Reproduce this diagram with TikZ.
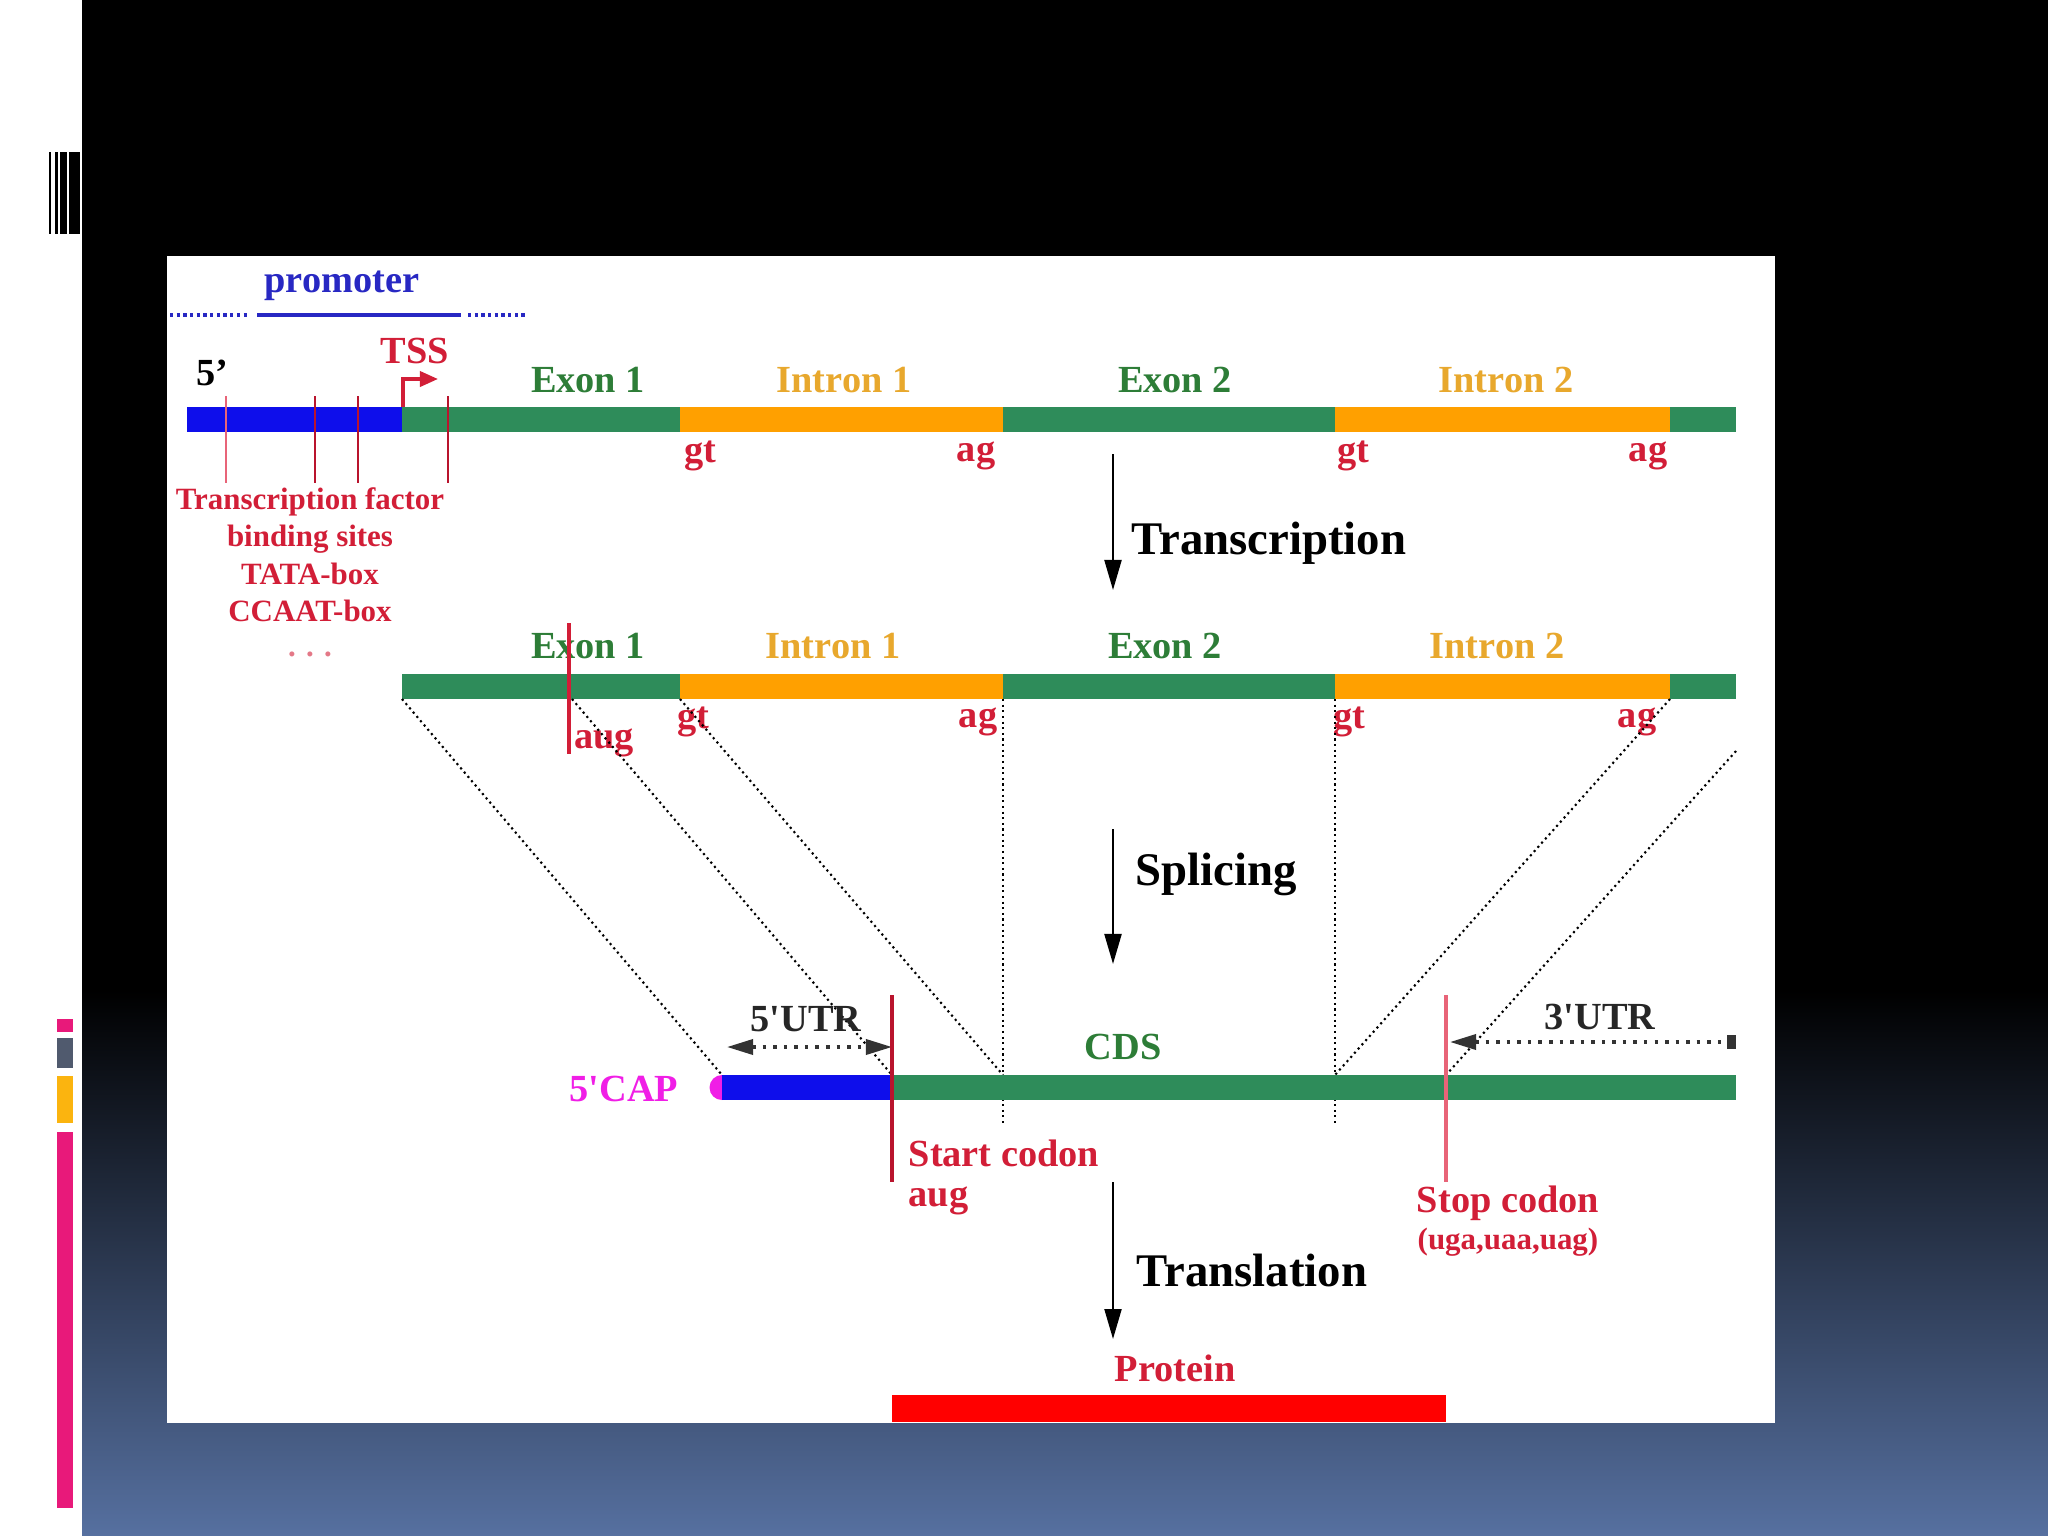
\documentclass[tikz,border=0pt]{standalone}
\usepackage{fontspec}
\setmainfont{Liberation Serif}
\usetikzlibrary{arrows.meta}

\definecolor{dnablue}{RGB}{14,14,235}
\definecolor{exongreen}{RGB}{46,140,90}
\definecolor{intronorange}{RGB}{255,160,0}
\definecolor{exontext}{RGB}{45,125,55}
\definecolor{introntext}{RGB}{232,168,45}
\definecolor{sitered}{RGB}{210,30,55}
\definecolor{startred}{RGB}{185,20,45}
\definecolor{stoppink}{RGB}{232,100,120}
\definecolor{capmag}{RGB}{240,30,230}
\definecolor{promblue}{RGB}{40,40,195}
\definecolor{slidepink}{RGB}{232,25,122}
\definecolor{slidegray}{RGB}{80,90,110}
\definecolor{slideyellow}{RGB}{251,180,15}
\definecolor{slideblue}{RGB}{86,112,160}

\tikzset{
  lbl/.style={font=\fontsize{10.9}{12}\selectfont\bfseries, inner sep=0pt},
  biglbl/.style={font=\fontsize{13.3}{15}\selectfont\bfseries, inner sep=0pt},
  smalllbl/.style={font=\fontsize{8.8}{10}\selectfont\bfseries, inner sep=0pt},
  splice/.style={densely dotted, line width=0.6pt},
  steparrow/.style={line width=0.6pt, -{Triangle[length=3mm,width=1.7mm]}},
  utrarrow/.style={dotted, line width=1pt, black!80},
}

\begin{document}
\begin{tikzpicture}[x=0.01cm,y=-0.01cm]
\useasboundingbox (0,0) rectangle (2048,1536);

\fill[white] (0,0) rectangle (2048,1536);
\fill[black] (82,0) rectangle (2048,990);
\shade[top color=black, bottom color=slideblue] (82,990) rectangle (2048,1536);

\foreach \a/\b in {49/51, 55/58, 60/67, 69/80}
{
\fill[black] (\a,152) rectangle (\b,234);
}

\fill[slidepink] (57,1019) rectangle (73,1032);
\fill[slidegray] (57,1038) rectangle (73,1068);
\fill[slideyellow] (57,1076) rectangle (73,1123);
\fill[slidepink] (57,1132) rectangle (73,1508);

\fill[white] (167,256) rectangle (1775,1423);

% gene
\node[lbl, text=promblue] (promoter) at (342,286) {promoter};
\draw[promblue, line width=0.9pt, densely dotted] (170,315) -- (248,315);
\draw[promblue, line width=0.9pt] (257,315) -- (461,315);
\draw[promblue, line width=0.9pt, densely dotted] (468,315) -- (525,315);

\foreach \a/\b/\c in {187/402/dnablue, 402/680/exongreen, 680/1003/intronorange, 1003/1335/exongreen, 1335/1670/intronorange, 1670/1736/exongreen}
{
\fill[\c] (\a,407) rectangle (\b,432);
}

\node[lbl] (five) at (212,373) {5’};
\node[lbl, text=sitered] (tsslbl) at (415,351) {TSS};
\coordinate (tss) at (403,407);
\coordinate (tsstip) at (438,379);
\draw[sitered, line width=1pt, -{Triangle[length=1.8mm,width=1.5mm]}] (tss) |- (tsstip);

\draw[stoppink, line width=0.8pt] (226,396) -- (226,483);
\foreach \x in {315,358,448}
{
\draw[startred, line width=0.7pt] (\x,396) -- (\x,483);
}

\node[smalllbl, text=sitered] (tf1) at (310,502) {Transcription factor};
\node[smalllbl, text=sitered] (tf2) at (310,539) {binding sites};
\node[smalllbl, text=sitered] (tf3) at (310,574) {TATA-box};
\node[smalllbl, text=sitered] (tf4) at (310,611) {CCAAT-box};
\node[smalllbl, text=sitered!60] (tf5) at (310,654) {. . .};

\node[lbl, text=exontext] (exon1a) at (588,380) {Exon 1};
\node[lbl, text=introntext] (intron1a) at (844,380) {Intron 1};
\node[lbl, text=exontext] (exon2a) at (1175,380) {Exon 2};
\node[lbl, text=introntext] (intron2a) at (1506,380) {Intron 2};

\node[lbl, text=sitered] (gt1a) at (700,456) {gt};
\node[lbl, text=sitered] (ag1a) at (976,456) {ag};
\node[lbl, text=sitered] (gt2a) at (1353,456) {gt};
\node[lbl, text=sitered] (ag2a) at (1648,456) {ag};

\coordinate (trtop) at (1113,454);
\coordinate (trbot) at (1113,590);
\draw[steparrow] (trtop) -- (trbot);
\node[biglbl, anchor=west] (transcription) at (1131,543) {Transcription};

% pre-mRNA
\foreach \a/\b/\c in {402/680/exongreen, 680/1003/intronorange, 1003/1335/exongreen, 1335/1670/intronorange, 1670/1736/exongreen}
{
\fill[\c] (\a,674) rectangle (\b,699);
}

\node[lbl, text=exontext] (exon1b) at (588,646) {Exon 1};
\node[lbl, text=introntext] (intron1b) at (833,646) {Intron 1};
\node[lbl, text=exontext] (exon2b) at (1165,646) {Exon 2};
\node[lbl, text=introntext] (intron2b) at (1497,646) {Intron 2};

\draw[sitered, line width=0.9pt] (569,623) -- (569,754);
\node[lbl, text=sitered] (augb) at (604,743) {aug};
\node[lbl, text=sitered] (gt1b) at (693,722) {gt};
\node[lbl, text=sitered] (ag1b) at (978,722) {ag};
\node[lbl, text=sitered] (gt2b) at (1349,722) {gt};
\node[lbl, text=sitered] (ag2b) at (1637,722) {ag};

\coordinate (pre5) at (402,699);
\coordinate (preaug) at (572,699);
\coordinate (pregt1) at (680,699);
\coordinate (preag1) at (1003,699);
\coordinate (pregt2) at (1335,699);
\coordinate (preag2) at (1670,699);
\coordinate (pre3) at (1736,751);

\coordinate (cap5) at (722,1075);
\coordinate (startc) at (892,1075);
\coordinate (jx1) at (1003,1075);
\coordinate (jx1low) at (1003,1126);
\coordinate (jx2) at (1335,1075);
\coordinate (jx2low) at (1335,1126);
\coordinate (stopc) at (1446,1075);

\draw[splice] (pre5) -- (cap5);
\draw[splice] (preaug) -- (startc);
\draw[splice] (pregt1) -- (jx1);
\draw[splice] (preag1) -- (jx1low);
\draw[splice] (pregt2) -- (jx2low);
\draw[splice] (preag2) -- (jx2);
\draw[splice] (pre3) -- (stopc);

\coordinate (sptop) at (1113,829);
\coordinate (spbot) at (1113,964);
\draw[steparrow] (sptop) -- (spbot);
\node[biglbl, anchor=west] (splicing) at (1135,874) {Splicing};

% mRNA
\fill[capmag] (722,1087.5) circle[radius=1.25mm];
\fill[dnablue] (722,1075) rectangle (892,1100);
\fill[exongreen] (892,1075) rectangle (1736,1100);

\node[lbl, text=capmag] (caplbl) at (624,1089) {5\textquotesingle CAP};
\node[lbl, text=black!85] (utr5lbl) at (806,1019) {5\textquotesingle UTR};
\node[lbl, text=exontext] (cds) at (1123,1047) {CDS};
\node[lbl, text=black!85] (utr3lbl) at (1600,1017) {3\textquotesingle UTR};

\coordinate (utr5l) at (727,1047);
\coordinate (utr5r) at (892,1047);
\draw[utrarrow, {Triangle[length=2.6mm,width=1.5mm]}-{Triangle[length=2.6mm,width=1.5mm]}] (utr5l) -- (utr5r);
\coordinate (utr3l) at (1450,1042);
\coordinate (utr3r) at (1736,1042);
\draw[utrarrow, {Triangle[length=2.6mm,width=1.5mm]}-{Square[length=0.9mm,width=1.4mm]}] (utr3l) -- (utr3r);

\draw[startred, line width=1pt] (892,995) -- (892,1182);
\draw[stoppink, line width=1pt] (1446,995) -- (1446,1182);

\node[lbl, text=sitered, anchor=west] (startlbl) at (908,1153) {Start codon};
\node[lbl, text=sitered, anchor=west] (auglbl) at (908,1201) {aug};
\node[lbl, text=sitered] (stoplbl) at (1508,1203) {Stop codon};
\node[smalllbl, text=sitered] (stopcodons) at (1508,1242) {(uga,uaa,uag)};

\coordinate (tltop) at (1113,1182);
\coordinate (tlbot) at (1113,1339);
\draw[steparrow] (tltop) -- (tlbot);
\node[biglbl, anchor=west] (translation) at (1136,1270) {Translation};

% protein
\node[lbl, text=sitered] (protein) at (1175,1368) {Protein};
\fill[red] (892,1395) rectangle (1446,1422);

\end{tikzpicture}
\end{document}
